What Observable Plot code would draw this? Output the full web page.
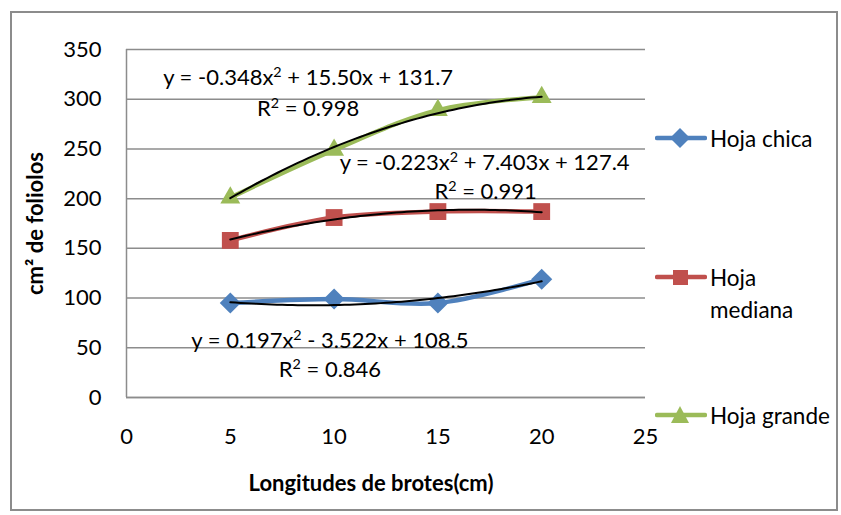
<!DOCTYPE html>
<html><head><meta charset="utf-8">
<script src="https://cdn.jsdelivr.net/npm/d3@7"></script>
<script src="https://cdn.jsdelivr.net/npm/@observablehq/plot@0.6"></script>
<style>
body{margin:0;background:#fff;font-family:Lato,"Noto Sans",sans-serif;}
#wrap{position:relative;width:841px;height:515px;}
#frame{position:absolute;left:10px;top:11px;width:828px;height:500px;border:2px solid #8c8c8c;box-sizing:border-box;pointer-events:none;}
.leg{position:absolute;left:655px;display:flex;align-items:flex-start;font-size:22.5px;color:#000;line-height:32px;}
.leg svg{flex:none;margin-top:5px;}
.leg span{margin-left:3px;}
</style></head><body>
<div id="wrap"><div id="chart"></div><div id="frame"></div></div>
<script>
const xs = [5, 10, 15, 20];
const series = ["Hoja chica", "Hoja mediana", "Hoja grande"];
const chica = [95, 99, 95, 119];
const mediana = [158, 181, 187, 187];
const grande = [201, 249, 289, 302];
const colors = ["#4F81BD", "#C0504D", "#9BBB59"];
const symbols = ["diamond2", "square", "triangle2"];
// trendline coefficients [a, b, c] as printed in the chart
const coefs = [[0.197, -3.522, 108.5], [-0.223, 7.403, 127.4], [-0.348, 15.50, 131.7]];
const eqLabels = ["y = 0.197x² - 3.522x + 108.5", "y = -0.223x² + 7.403x + 127.4", "y = -0.348x² + 15.50x + 131.7"];
const r2Labels = ["R² = 0.846", "R² = 0.991", "R² = 0.998"];
// label anchor positions (data units)
const eqPos = [[9.8, 57], [17.25, 236], [8.75, 321]];
const r2Pos = [[9.8, 28], [17.3, 207], [8.75, 290]];
const xTicks = [0, 5, 10, 15, 20, 25];
const yTicks = [0, 50, 100, 150, 200, 250, 300, 350];

const vals = [chica, mediana, grande];
const data = [];
series.forEach((s, i) => xs.forEach((x, j) => data.push({s, x, y: vals[i][j]})));
const trend = [];
series.forEach((s, i) => {
  const [a, b, c] = coefs[i];
  for (let x = 5; x <= 20.001; x += 0.25) trend.push({s, x, y: a * x * x + b * x + c});
});
const labels = [];
series.forEach((s, i) => {
  labels.push({x: eqPos[i][0], y: eqPos[i][1], t: eqLabels[i]});
  labels.push({x: r2Pos[i][0], y: r2Pos[i][1], t: r2Labels[i]});
});

const chart = Plot.plot({
  width: 841, height: 515,
  marginLeft: 126, marginTop: 49, marginRight: 196, marginBottom: 118,
  style: {fontFamily: "Lato, 'Noto Sans', sans-serif", fontSize: "22px", color: "#000", background: "#fff"},
  x: {domain: [0, 25], ticks: xTicks},
  y: {domain: [0, 350], ticks: yTicks},
  color: {domain: series, range: colors},
  symbol: {domain: series, range: symbols},
  marks: [
    Plot.gridY(yTicks, {stroke: "#8c8c8c", strokeOpacity: 1, strokeWidth: 1.5}),
    Plot.ruleX([0], {stroke: "#8c8c8c", strokeWidth: 1.5}),
    Plot.ruleY([0], {stroke: "#8c8c8c", strokeWidth: 1.5}),
    Plot.axisY(yTicks, {tickSize: 0, tickPadding: 25, label: null, fontSize: 22}),
    Plot.axisX(xTicks, {tickSize: 0, tickPadding: 31, label: null, fontSize: 22}),
    Plot.line(data, {x: "x", y: "y", z: "s", stroke: "s", strokeWidth: 4.5, curve: "catmull-rom"}),
    Plot.dot(data, {x: "x", y: "y", symbol: "s", fill: "s", r: 9.5}),
    Plot.line(trend, {x: "x", y: "y", z: "s", stroke: "#000", strokeWidth: 2}),
    Plot.text(labels, {x: "x", y: "y", text: "t", fontSize: 22, fill: "#000"}),
    Plot.text(["cm² de foliolos"], {frameAnchor: "left", textAnchor: "middle", dx: -91, rotate: -90, fontWeight: "bold", fontSize: 22}),
    Plot.text(["Longitudes de brotes(cm)"], {frameAnchor: "bottom", dx: -15, dy: 93, fontWeight: "bold", fontSize: 22})
  ]
});
// render ² in equations as a true superscript
d3.select(chart).selectAll("text").each(function() {
  const el = this;
  const targets = el.children.length ? Array.from(el.querySelectorAll("tspan")) : [el];
  targets.forEach(t => {
    if (t.children.length === 0 && t.textContent.includes("²") && /^(y =|R²)/.test(t.textContent)) {
      const parts = t.textContent.split("²");
      t.textContent = "";
      parts.forEach((p, k) => {
        t.appendChild(document.createTextNode(p));
        if (k < parts.length - 1) {
          const sup = document.createElementNS("http://www.w3.org/2000/svg", "tspan");
          sup.setAttribute("baseline-shift", "super");
          sup.setAttribute("font-size", "65%");
          sup.textContent = "2";
          t.appendChild(sup);
        }
      });
    }
  });
});
document.getElementById("chart").appendChild(chart);

// legend
const wrap = document.getElementById("wrap");
const legTops = [123, 262, 400];
const legText = ["Hoja chica", "Hoja<br>mediana", "Hoja grande"];
const icons = [
  c => `<polygon points="25,0 35,10 25,20 15,10" fill="${c}"/>`,
  c => `<rect x="18" y="3" width="15" height="15" fill="${c}"/>`,
  c => `<polygon points="25,1 34,18 16,18" fill="${c}"/>`
];
series.forEach((s, i) => {
  const d = document.createElement("div");
  d.className = "leg";
  d.style.top = legTops[i] + "px";
  d.innerHTML = `<svg width="52" height="22"><line x1="2" x2="50" y1="10" y2="10" stroke="${colors[i]}" stroke-width="4.5" stroke-linecap="round"/>${icons[i](colors[i])}</svg><span>${legText[i]}</span>`;
  wrap.appendChild(d);
});
</script>
</body></html>
